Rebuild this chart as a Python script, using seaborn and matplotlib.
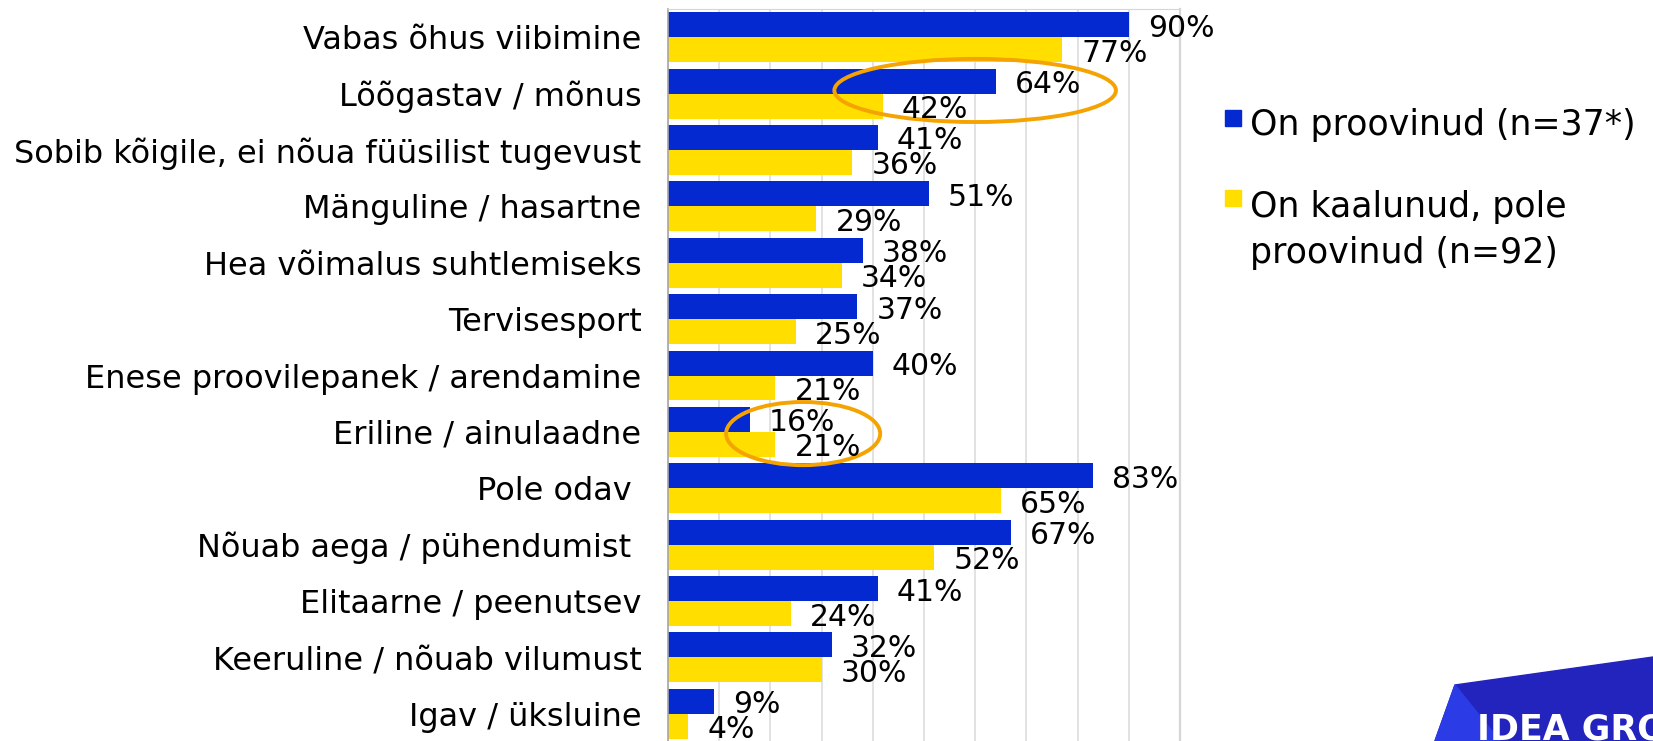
import numpy as np
import pandas as pd
import matplotlib
matplotlib.use("Agg")
import matplotlib.pyplot as plt
from matplotlib.patches import Ellipse, Polygon, Rectangle
import seaborn as sns

# data
categories = [
    "Vabas õhus viibimine",
    "Lõõgastav / mõnus",
    "Sobib kõigile, ei nõua füüsilist tugevust",
    "Mänguline / hasartne",
    "Hea võimalus suhtlemiseks",
    "Tervisesport",
    "Enese proovilepanek / arendamine",
    "Eriline / ainulaadne",
    "Pole odav ",
    "Nõuab aega / pühendumist ",
    "Elitaarne / peenutsev",
    "Keeruline / nõuab vilumust",
    "Igav / üksluine",
]
tried = [90, 64, 41, 51, 38, 37, 40, 16, 83, 67, 41, 32, 9]
considered = [77, 42, 36, 29, 34, 25, 21, 21, 65, 52, 24, 30, 4]
series_names = ["On proovinud (n=37*)", "On kaalunud, pole\nproovinud (n=92)"]

BLUE = "#0529D0"
YELLOW = "#FFDE00"
ORANGE = "#F5A300"

df = pd.DataFrame({
    "cat": categories * 2,
    "value": tried + considered,
    "group": [series_names[0]] * len(tried) + [series_names[1]] * len(considered),
})

sns.set_style("white")
plt.rcParams["font.family"] = ["DejaVu Sans"]
plt.rcParams["text.color"] = "black"
plt.rcParams["ytick.labelcolor"] = "black"

fig = plt.figure(figsize=(16.53, 7.41), dpi=100)
ax = fig.add_axes([0.4041, -0.0014, 0.3097, 0.9893])

sns.barplot(data=df, y="cat", x="value", hue="group", orient="h",
            palette=[BLUE, YELLOW], width=0.886, gap=0, legend=False,
            linewidth=0, saturation=1, ax=ax)

# value labels
for cont, vals in zip(ax.containers, [tried, considered]):
    for bar, v in zip(cont, vals):
        ax.annotate(f"{v}%", (bar.get_width(), bar.get_y() + bar.get_height() / 2),
                    xytext=(13.7, -2.5), textcoords="offset points",
                    ha="left", va="center", fontsize=21.5, color="black",
                    annotation_clip=False)

ax.set_xlim(0, 100)
ax.set_ylim(len(categories) - 0.5, -0.5)
ax.set_xticks(np.arange(0, 101, 10))
ax.xaxis.grid(True, color="#DDDDDD", linewidth=1.2)
ax.set_axisbelow(True)
ax.tick_params(axis="x", length=0, labelbottom=False)
ax.set_xlabel("")
ax.set_ylabel("")

ax.tick_params(axis="y", which="major", length=0, pad=19, labelsize=23,
               labelcolor="black")
ax.set_yticks(np.arange(-0.5, len(categories), 1), minor=True)
ax.tick_params(axis="y", which="minor", length=5, width=1.2, color="#A6A6A6",
               direction="out")

for side in ["top", "right", "bottom"]:
    ax.spines[side].set_color("#D6D6D6")
ax.spines["right"].set_linewidth(1.6)
ax.spines["left"].set_color("#A6A6A6")
ax.spines["left"].set_linewidth(1.2)

# orange highlight ellipses
ax.add_patch(Ellipse((60.0, 0.945), 55, 1.12, fill=False, edgecolor=ORANGE,
                     linewidth=2.8, clip_on=False))
ax.add_patch(Ellipse((26.4, 7.03), 30.1, 1.12, fill=False, edgecolor=ORANGE,
                     linewidth=2.8, clip_on=False))

# legend
W, H = 1653, 741
for name, color, ysq, ytxt in zip(series_names, [BLUE, YELLOW], [110, 190], [108, 190]):
    fig.patches.append(Rectangle((1225 / W, 1 - (ysq + 16) / H), 16 / W, 16 / H,
                                 transform=fig.transFigure, color=color))
    fig.text(1250 / W, 1 - ytxt / H, name, ha="left", va="top",
             fontsize=25, linespacing=1.43, color="black")

# logo corner
fig.patches.append(Polygon([(1435 / W, 0), (1455 / W, 1 - 685 / H), (1, 1 - 657 / H), (1, 0)],
                           closed=True, transform=fig.transFigure, color="#2323BE"))
fig.patches.append(Polygon([(1435 / W, 0), (1455 / W, 1 - 685 / H), (1500 / W, 0)],
                           closed=True, transform=fig.transFigure, color="#2B3CE6"))
fig.text(1477 / W, 1 - 713 / H, "IDEA GROUP", ha="left", va="top",
         fontsize=25, fontweight="bold", color="white")

fig.savefig("out.png", dpi=100)
